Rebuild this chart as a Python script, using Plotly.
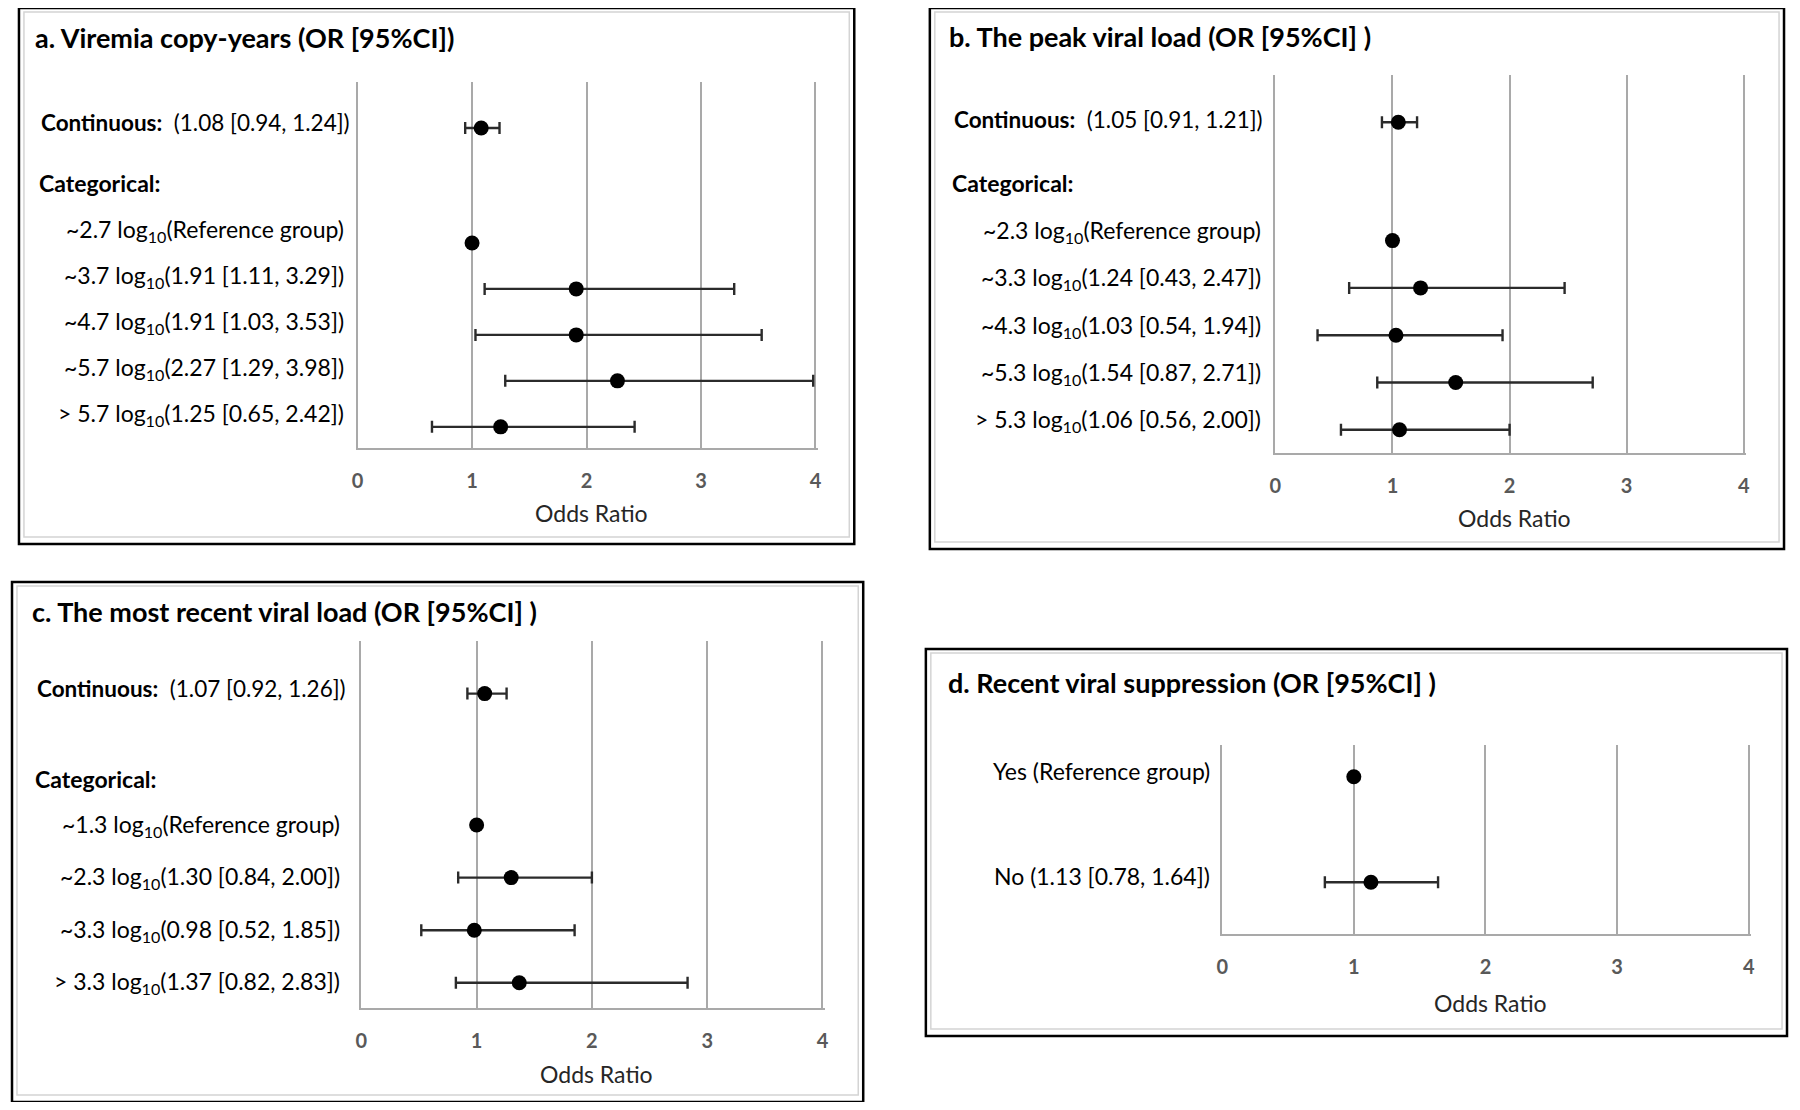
import plotly.graph_objects as go

OFF = 8                      # page body margin of the rendered html
W, H = 1800 - 2 * OFF, 1110 - 2 * OFF
FONT = "Lato, Open Sans, sans-serif"

# ---------------- data ----------------
a_title = "a. Viremia copy-years (OR [95%CI])"
a_cont_label = "(1.08 [0.94, 1.24])"
a_cat_labels = ["~2.7 log<sub>10</sub>(Reference group)",
                "~3.7 log<sub>10</sub>(1.91 [1.11, 3.29])",
                "~4.7 log<sub>10</sub>(1.91 [1.03, 3.53])",
                "~5.7 log<sub>10</sub>(2.27 [1.29, 3.98])",
                "> 5.7 log<sub>10</sub>(1.25 [0.65, 2.42])"]
a_or = [1.08, 1.00, 1.91, 1.91, 2.27, 1.25]
a_lo = [0.94, None, 1.11, 1.03, 1.29, 0.65]
a_hi = [1.24, None, 3.29, 3.53, 3.98, 2.42]

b_title = "b. The peak viral load (OR [95%CI] )"
b_cont_label = "(1.05 [0.91, 1.21])"
b_cat_labels = ["~2.3 log<sub>10</sub>(Reference group)",
                "~3.3 log<sub>10</sub>(1.24 [0.43, 2.47])",
                "~4.3 log<sub>10</sub>(1.03 [0.54, 1.94])",
                "~5.3 log<sub>10</sub>(1.54 [0.87, 2.71])",
                "> 5.3 log<sub>10</sub>(1.06 [0.56, 2.00])"]
b_or = [1.05, 1.00, 1.24, 1.03, 1.54, 1.06]
b_lo = [0.91, None, 0.63, 0.36, 0.87, 0.56]   # as drawn in the figure
b_hi = [1.21, None, 2.47, 1.94, 2.71, 2.00]

c_title = "c. The most recent viral load (OR [95%CI] )"
c_cont_label = "(1.07 [0.92, 1.26])"
c_cat_labels = ["~1.3 log<sub>10</sub>(Reference group)",
                "~2.3 log<sub>10</sub>(1.30 [0.84, 2.00])",
                "~3.3 log<sub>10</sub>(0.98 [0.52, 1.85])",
                "> 3.3 log<sub>10</sub>(1.37 [0.82, 2.83])"]
c_or = [1.07, 1.00, 1.30, 0.98, 1.37]
c_lo = [0.92, None, 0.84, 0.52, 0.82]
c_hi = [1.26, None, 2.00, 1.85, 2.83]

d_title = "d. Recent viral suppression (OR [95%CI] )"
d_labels = ["Yes (Reference group)", "No (1.13 [0.78, 1.64])"]
d_or = [1.00, 1.13]
d_lo = [None, 0.78]
d_hi = [None, 1.64]

x_ticks = [0, 1, 2, 3, 4]
x_title = "Odds Ratio"
XMAX = 4.02

# ---------------- layout geometry (screen pixels) ----------------
panels = [
    dict(title=a_title, cont=a_cont_label, cats=a_cat_labels, orv=a_or, lo=a_lo, hi=a_hi,
         pos=[0, 2.5, 3.5, 4.5, 5.5, 6.5], catpos=1.2, yrange=[6.96, -1.0],
         box=(13, 8, 853, 544), x0=353.5, x4=814, ytop=82, ybot=448,
         tx=27, ty=38, lx=342, llx=33, ory=513, cont_shift=5, cat_shift=12),
    dict(title=b_title, cont=b_cont_label, cats=b_cat_labels, orv=b_or, lo=b_lo, hi=b_hi,
         pos=[0, 2.5, 3.5, 4.5, 5.5, 6.5], catpos=1.29, yrange=[6.99, -1.0],
         box=(929, 8, 1788, 549), x0=1276.5, x4=1747.5, ytop=75, ybot=453,
         tx=946, ty=36, lx=1264, llx=951, ory=518, cont_shift=3, cat_shift=9),
    dict(title=c_title, cont=c_cont_label, cats=c_cat_labels, orv=c_or, lo=c_lo, hi=c_hi,
         pos=[0, 2.5, 3.5, 4.5, 5.5], catpos=1.62, yrange=[5.98, -1.0],
         box=(6, 582, 862, 1102), x0=357.3, x4=821, ytop=641, ybot=1008,
         tx=24, ty=611, lx=338, llx=29, ory=1074, cont_shift=5, cat_shift=0),
    dict(title=d_title, cont=None, cats=d_labels, orv=d_or, lo=d_lo, hi=d_hi,
         pos=[0, 1], catpos=None, yrange=[1.49, -0.30],
         box=(925, 649, 1791, 1036), x0=1223, x4=1752.5, ytop=745, ybot=934,
         tx=945, ty=682, lx=1213, llx=None, ory=1003, cont_shift=0, cat_shift=6),
]


def px(x):
    return (x - OFF) / W


def py(y):
    return 1 - (y - OFF) / H


fig = go.Figure()
shapes = []
annotations = []
layout = {}

for i, p in enumerate(panels):
    n = "" if i == 0 else str(i + 1)
    xa, ya = "x" + n, "y" + n
    plus = [None if h is None else h - o for o, h in zip(p["orv"], p["hi"])]
    minus = [None if l is None else o - l for o, l in zip(p["orv"], p["lo"])]
    fig.add_trace(go.Scatter(
        x=p["orv"], y=p["pos"], mode="markers", xaxis=xa, yaxis=ya,
        marker=dict(size=15, color="black"),
        error_x=dict(type="data", symmetric=False, array=plus, arrayminus=minus,
                     color="#2b2b2b", thickness=2.4, width=6),
        showlegend=False, hoverinfo="x"))

    x_end = p["x0"] + (p["x4"] - p["x0"]) * XMAX / 4
    layout["xaxis" + n] = dict(
        domain=[px(p["x0"]), px(x_end)], anchor=ya, range=[0, XMAX],
        tickvals=x_ticks, ticktext=[str(t) for t in x_ticks],
        showgrid=True, gridcolor="#a9a9a9", gridwidth=1.5, zeroline=False,
        showline=True, linecolor="#a9a9a9", linewidth=1.5, ticks="",
        ticklabelstandoff=14,
        tickfont=dict(family=FONT, size=20, color="#595959", weight="bold"),
        fixedrange=True)
    layout["yaxis" + n] = dict(
        domain=[py(p["ybot"]), py(p["ytop"])], anchor=xa, range=p["yrange"],
        showgrid=False, zeroline=False, showticklabels=False, ticks="",
        showline=True, linecolor="#a9a9a9", linewidth=1.5, fixedrange=True)

    bx0, by0, bx1, by1 = p["box"]
    shapes.append(dict(type="rect", xref="paper", yref="paper",
                       x0=px(bx0), x1=px(bx1), y0=py(by1), y1=py(by0),
                       line=dict(color="black", width=2.5)))
    shapes.append(dict(type="rect", xref="paper", yref="paper",
                       x0=px(bx0 + 5), x1=px(bx1 - 5), y0=py(by1 - 7), y1=py(by0 + 4),
                       line=dict(color="#d4d4d4", width=1.5)))

    annotations.append(dict(text="<b>" + p["title"] + "</b>", xref="paper", yref="paper",
                            x=px(p["tx"]), y=py(p["ty"]), xanchor="left", yanchor="middle",
                            showarrow=False, font=dict(family=FONT, size=27, color="black")))
    annotations.append(dict(text=x_title, xref="paper", yref="paper",
                            x=px((p["x0"] + p["x4"]) / 2 + 5), y=py(p["ory"]),
                            xanchor="center", yanchor="middle", showarrow=False,
                            font=dict(family=FONT, size=23, color="#262626")))

    if p["cont"] is not None:
        annotations.append(dict(text="<b>Continuous:</b>  " + p["cont"], xref="paper", yref=ya,
                                x=px(p["llx"]), y=p["pos"][0], yshift=p["cont_shift"],
                                xanchor="left", yanchor="middle", showarrow=False,
                                font=dict(family=FONT, size=22.5, color="black")))
        annotations.append(dict(text="<b>Categorical:</b>", xref="paper", yref=ya,
                                x=px(p["llx"] - 2), y=p["catpos"],
                                xanchor="left", yanchor="middle", showarrow=False,
                                font=dict(family=FONT, size=23, color="black")))
        cat_pos = p["pos"][1:]
    else:
        cat_pos = p["pos"]
    for lab, yv in zip(p["cats"], cat_pos):
        annotations.append(dict(text=lab, xref="paper", yref=ya,
                                x=px(p["lx"]), y=yv, yshift=p["cat_shift"],
                                xanchor="right", yanchor="middle", showarrow=False,
                                font=dict(family=FONT, size=23, color="black")))

fig.update_layout(
    width=W, height=H, margin=dict(l=0, r=0, t=0, b=0),
    paper_bgcolor="white", plot_bgcolor="white",
    font=dict(family=FONT), shapes=shapes, annotations=annotations, **layout)

fig.write_html("out.html")
